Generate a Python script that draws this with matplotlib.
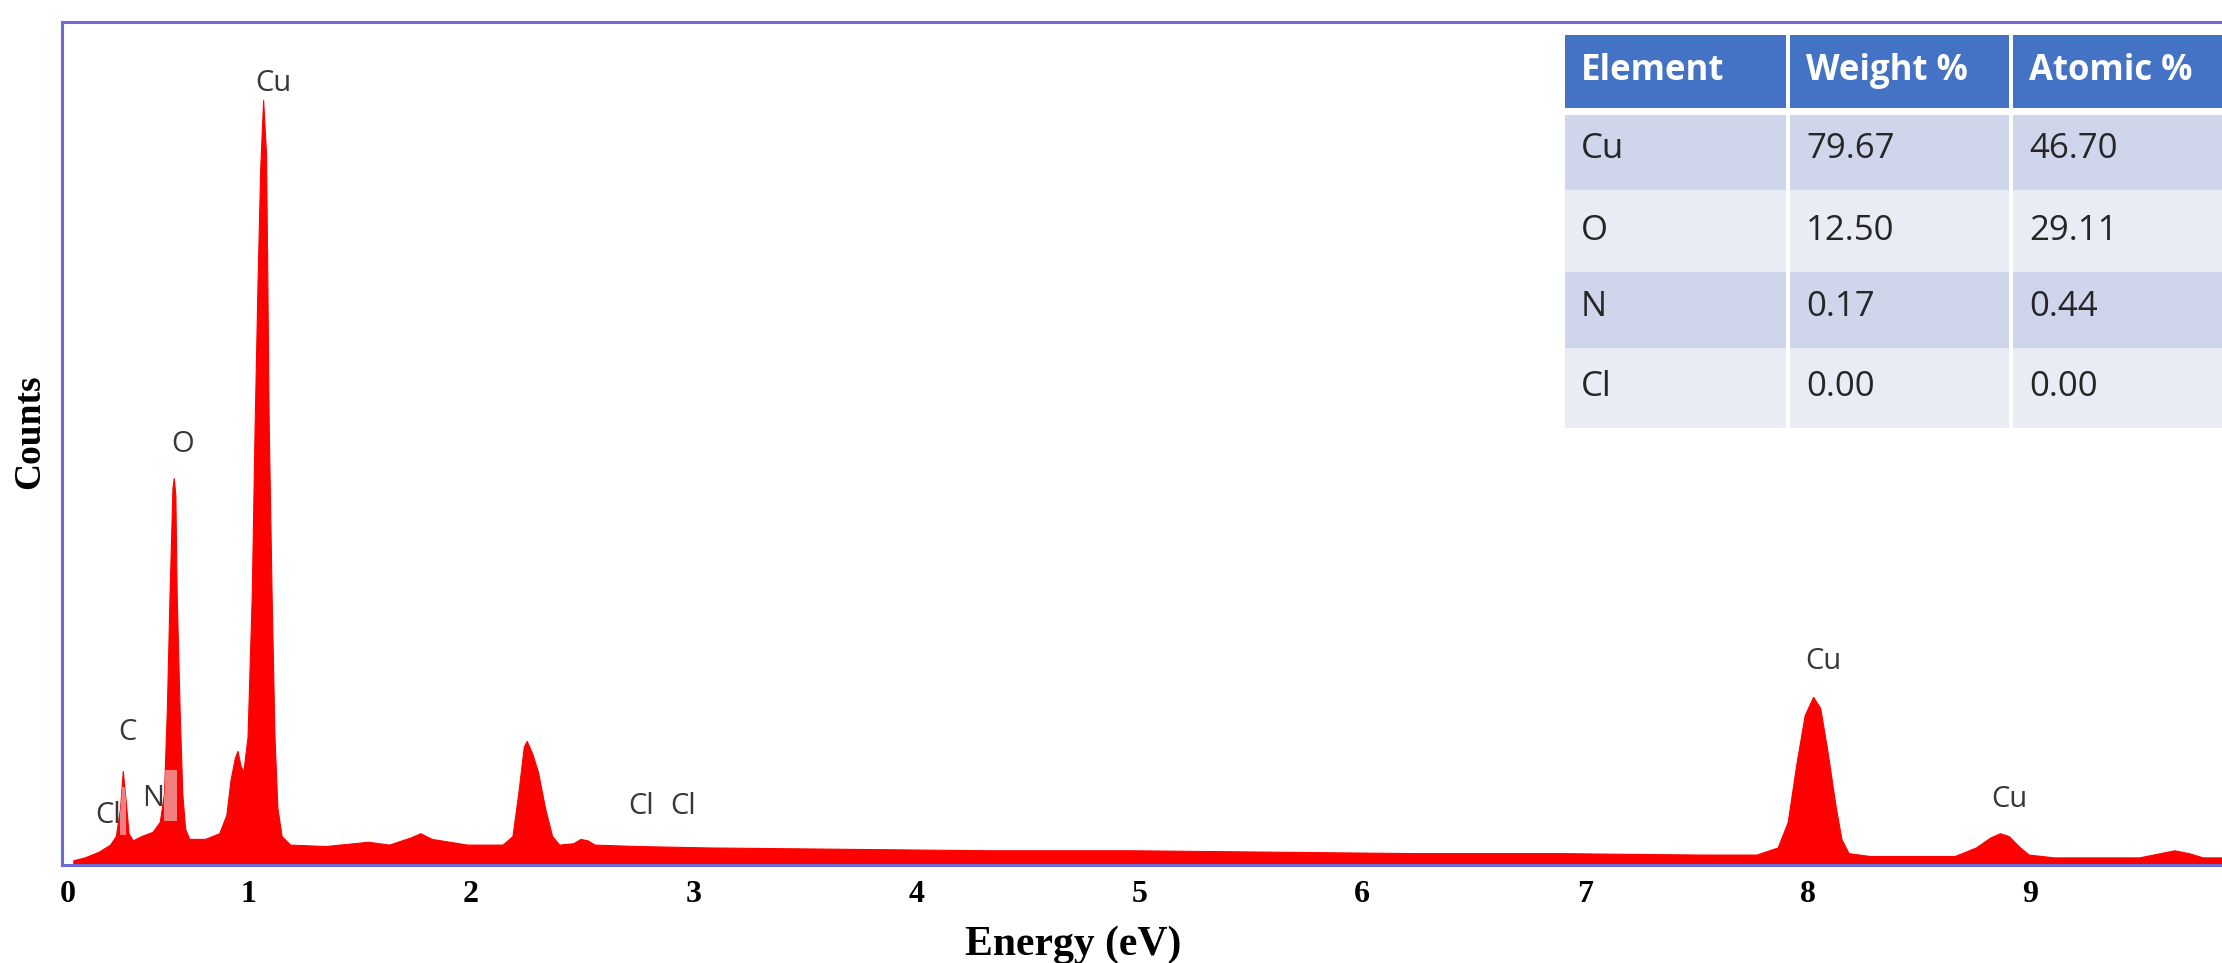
import matplotlib.pyplot as plt
from matplotlib.patches import Rectangle

# EDS spectrum outline (energy on the axis scale, counts in arbitrary units)
energy = [0.218, 0.269, 0.332, 0.383, 0.409, 0.428, 0.440, 0.453, 0.466, 0.485,
          0.523, 0.574, 0.606, 0.625, 0.638, 0.650, 0.663, 0.669, 0.676, 0.682,
          0.695, 0.707, 0.720, 0.739, 0.809, 0.873, 0.905, 0.924, 0.943, 0.955,
          0.968, 0.981, 1.000, 1.019, 1.032, 1.045, 1.057, 1.070, 1.083, 1.089,
          1.095, 1.108, 1.121, 1.134, 1.153, 1.191, 1.350, 1.541, 1.636, 1.731,
          1.776, 1.827, 1.986, 2.145, 2.189, 2.215, 2.240, 2.253, 2.278, 2.304,
          2.335, 2.367, 2.399, 2.463, 2.494, 2.526, 2.558, 2.749, 3.067, 3.703,
          4.339, 4.975, 5.610, 6.246, 6.882, 7.518, 7.773, 7.868, 7.913, 7.951,
          7.989, 8.027, 8.059, 8.091, 8.129, 8.154, 8.186, 8.281, 8.663, 8.758,
          8.822, 8.866, 8.905, 8.949, 8.994, 9.108, 9.490, 9.585, 9.649, 9.713,
          9.776, 9.860]
counts = [30, 50, 90, 140, 200, 400, 660, 450, 220, 170,
          200, 230, 300, 500, 1100, 1900, 2650, 2720, 2600, 1900,
          1100, 500, 250, 180, 180, 220, 350, 600, 750, 800,
          700, 650, 900, 1900, 3100, 4100, 4900, 5380, 5000, 4100,
          3100, 1900, 900, 400, 200, 140, 130, 160, 140, 190,
          220, 180, 140, 140, 200, 500, 830, 870, 780, 650,
          400, 200, 140, 150, 180, 170, 140, 130, 120, 110,
          100, 100, 90, 80, 80, 70, 70, 120, 300, 700,
          1050, 1180, 1100, 800, 400, 180, 80, 60, 60, 120,
          190, 220, 200, 130, 70, 50, 50, 80, 100, 80,
          50, 50]

# peak annotations
peak_labels = ["Cl", "C", "N", "O", "Cu", "Cl", "Cl", "Cu", "Cu"]
peak_energy = [0.370, 0.459, 0.574, 0.707, 1.114, 2.762, 2.952, 8.072, 8.905]
peak_counts = [350, 930, 470, 2960, 5500, 410, 410, 1430, 460]

# shaded element windows
window_lo = [0.426, 0.625]
window_hi = [0.453, 0.682]
window_bottom = [210, 310]
window_top = [550, 670]

# quantification table
table_header = ["Element", "Weight %", "Atomic %"]
table_element = ["Cu", "O", "N", "Cl"]
weight_pct = ["79.67", "12.50", "0.17", "0.00"]
atomic_pct = ["46.70", "29.11", "0.44", "0.00"]

tick_pos = [0.19, 1, 2, 3, 4, 5, 6, 7, 8, 9]
tick_labels = ["0", "1", "2", "3", "4", "5", "6", "7", "8", "9"]

W, H = 2222, 963
fig = plt.figure(figsize=(W / 100, H / 100), dpi=100)
fig.patch.set_facecolor("white")

ax = fig.add_axes([62 / W, 1 - 865 / H, (W - 62) / W, (865 - 22) / H])

xs = [energy[0]] + energy + [energy[-1]]
ys = [0] + counts + [0]
spectrum = ax.fill(xs, ys, color="#FF0000", lw=0.8)[0]

for lo, hi, b, t in zip(window_lo, window_hi, window_bottom, window_top):
    r = Rectangle((lo, b), hi - lo, t - b, facecolor="#F08080", edgecolor="none", zorder=3)
    ax.add_patch(r)
    r.set_clip_path(spectrum)

for lab, e, c in zip(peak_labels, peak_energy, peak_counts):
    ax.text(e, c, lab, ha="center", va="center", fontsize=21,
            family="Open Sans", color="#383838", zorder=4)

ax.set_xlim(0.165, 9.86)
ax.set_ylim(0, 5930)
ax.set_yticks([])
ax.set_xticks(tick_pos)
ax.set_xticklabels(tick_labels, family="Liberation Serif", fontweight="bold", fontsize=23)
ax.tick_params(axis="x", length=0, pad=11)

for side in ["left", "top", "bottom"]:
    ax.spines[side].set_color("#6B6BD6")
    ax.spines[side].set_linewidth(2.2)
ax.spines["right"].set_visible(False)

ax.set_ylabel("Counts", family="Liberation Serif", fontweight="bold", fontsize=27)
ax.yaxis.set_label_coords(-0.007, 0.514)
fig.text(1073 / W, 1 - 955 / H, "Energy (eV)", ha="center", va="baseline",
         family="Liberation Serif", fontweight="bold", fontsize=30)

# table drawn in its own pixel-unit axes
tx0, ty0, tx1, ty1 = 1563, 35, 2231, 428
tab = fig.add_axes([tx0 / W, 1 - ty1 / H, (tx1 - tx0) / W, (ty1 - ty0) / H])
tab.set_xlim(0, tx1 - tx0)
tab.set_ylim(ty1 - ty0, 0)
tab.axis("off")

col_edges = [0, 225, 448, 668]
row_edges = [0, 73, 80, 155, 237, 313, 393]
gap = 2

for j in range(3):
    x0, x1 = col_edges[j] + gap, col_edges[j + 1] - gap
    tab.add_patch(Rectangle((x0, row_edges[0]), x1 - x0, row_edges[1] - row_edges[0],
                            facecolor="#4472C4", edgecolor="none"))
    tab.text(col_edges[j] + 18, row_edges[1] - 28, table_header[j],
             ha="left", va="baseline", family="Open Sans", fontweight="bold",
             fontsize=25, color="white")

rows = list(zip(table_element, weight_pct, atomic_pct))
for i, row in enumerate(rows):
    y0, y1 = row_edges[i + 2], row_edges[i + 3]
    fc = "#CFD5EA" if i % 2 == 0 else "#E9EBF5"
    for j in range(3):
        x0, x1 = col_edges[j] + gap, col_edges[j + 1] - gap
        tab.add_patch(Rectangle((x0, y0), x1 - x0, y1 - y0, facecolor=fc, edgecolor="none"))
        tab.text(col_edges[j] + 18, y1 - 32, row[j], ha="left", va="baseline",
                 family="Open Sans", fontsize=25, color="#262626")

fig.savefig("out.png", dpi=100)
